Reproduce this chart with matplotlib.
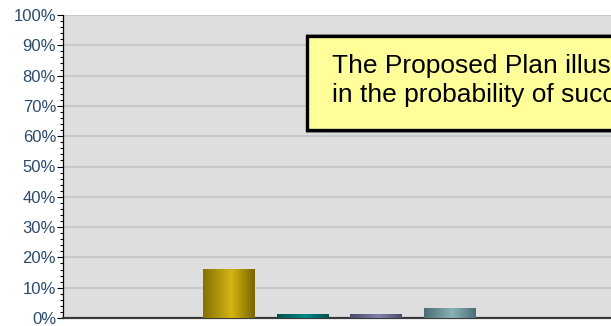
import numpy as np
import matplotlib
matplotlib.use("Agg")
import matplotlib.pyplot as plt
from matplotlib.colors import LinearSegmentedColormap
from matplotlib.patches import Rectangle
from matplotlib.ticker import MultipleLocator, PercentFormatter

plt.rcParams['font.family'] = ['Liberation Sans', 'DejaVu Sans']

# Share of outcomes per scenario (percent)
scenarios = ["S1", "S2", "S3", "S4", "S5", "S6", "S7", "S8"]
shares = [0.0, 0.0, 16.2, 1.3, 1.3, 3.3, 0.0, 0.0]

# Cylinder shading per bar: edge, centre, edge
bar_shades = [
    ("#8a7a10", "#c9b020", "#7a6a05"),
    ("#8a7a10", "#c9b020", "#7a6a05"),
    ("#857000", "#d4b512", "#766400"),
    ("#00514f", "#008a88", "#00504e"),
    ("#4a4a6e", "#8080aa", "#4c4c70"),
    ("#4d6c74", "#88b2b8", "#4e6e76"),
    ("#8a7a10", "#c9b020", "#7a6a05"),
    ("#8a7a10", "#c9b020", "#7a6a05"),
]

note_lines = ["The Proposed Plan illustrates a rise", "in the probability of success"]

W, H = 611, 326
fig = plt.figure(figsize=(W / 100, H / 100), dpi=100)
fig.patch.set_facecolor("white")

ax = fig.add_axes([63 / W, 8 / H, (W - 63) / W, (318 - 15) / H])
ax.set_facecolor("#dedede")

x = np.arange(len(scenarios))
bars = ax.bar(x, shares, width=0.707, color="none", edgecolor="none", zorder=3)

grad = np.linspace(0, 1, 256).reshape(1, -1)
for b, shade in zip(bars, bar_shades):
    h = b.get_height()
    if h <= 0:
        continue
    cmap = LinearSegmentedColormap.from_list("cyl", [(0, shade[0]), (0.55, shade[1]), (1, shade[2])])
    x0 = b.get_x()
    im = ax.imshow(grad, cmap=cmap, aspect="auto", extent=[x0, x0 + b.get_width(), 0, h],
                   zorder=3, interpolation="bilinear")
    im.set_clip_path(b)

ax.set_xlim(2 - 166 / 73.5, 2 + (611 - 229) / 73.5)
ax.set_ylim(0, 100)

ax.yaxis.set_major_locator(MultipleLocator(10))
ax.yaxis.set_minor_locator(MultipleLocator(2))
ax.yaxis.set_major_formatter(PercentFormatter(decimals=0))
ax.tick_params(axis="y", which="major", length=4, width=0.8, color="black",
               labelsize=12, labelcolor="#2b4a6f", pad=1)
ax.tick_params(axis="y", which="minor", length=2.5, width=0.8, color="black")
ax.set_xticks([])

ax.grid(axis="y", which="major", color="#c4c4c4", linewidth=1.2, zorder=1)
ax.set_axisbelow(True)

for side in ("top", "right"):
    ax.spines[side].set_visible(False)
ax.spines["left"].set_color("black")
ax.spines["left"].set_linewidth(0.9)
ax.spines["bottom"].set_color("#3a3a3a")
ax.spines["bottom"].set_linewidth(1.6)

# Call-out box
box_x0, box_y0 = 307 / W, (H - 130) / H
box_w, box_h = (W + 20 - 307) / W, (130 - 36) / H
fig.patches.append(Rectangle((box_x0 - 1.5 / W, box_y0 - 1.5 / H), box_w + 3 / W, box_h + 3 / H,
                             transform=fig.transFigure, facecolor="none",
                             edgecolor="#9a9a9a", linewidth=0.8, zorder=5))
fig.patches.append(Rectangle((box_x0, box_y0), box_w, box_h, transform=fig.transFigure,
                             facecolor="#ffff99", edgecolor="black", linewidth=2.4, zorder=6))
for line, base_px in zip(note_lines, (73.5, 101.8)):
    fig.text(332 / W, (H - base_px) / H, line, ha="left", va="baseline", fontsize=19,
             color="black", zorder=7)

fig.savefig("out.png", dpi=100)
